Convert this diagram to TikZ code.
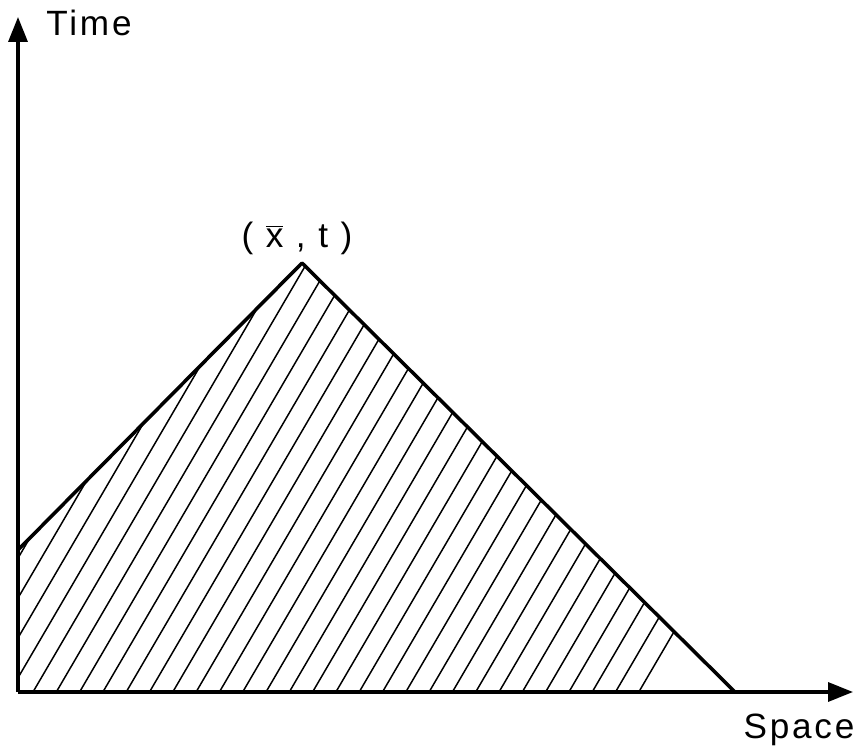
\documentclass[tikz,border=0pt]{standalone}
\usepackage{fontspec}
\setmainfont{Liberation Sans}
\newfontfamily\lblfont[LetterSpace=8]{Liberation Sans}
\usepackage{tikz}
\usetikzlibrary{arrows.meta,calc}

\begin{document}
\begin{tikzpicture}[
  axis/.style={line width=1.9pt, -{Triangle[length=0.5cm,width=0.38cm]}},
  edge/.style={line width=2pt, line join=round},
  hatch/.style={line width=0.85pt},
  lbl/.style={font=\lblfont\fontsize{20}{24}\selectfont}
]
  \useasboundingbox (0,0) rectangle (17.16,15.06);

  \coordinate (origin) at (0.36,1.22);
  \coordinate (ytip)   at (0.36,14.72);
  \coordinate (xtip)   at (17.06,1.22);
  \coordinate (left)   at (0.36,4.06);
  \coordinate (apex)   at (6.04,9.8);
  \coordinate (right)  at (14.7,1.22);

  % hatched region
  \begin{scope}
    \clip (origin) -- (left) -- (apex) -- (right) -- cycle;
    \foreach \k in {-10,...,26}
      \draw[hatch] ($(0.66,1.22)+(0.466*\k,0)$) -- ++(59.7:16);
  \end{scope}

  \draw[edge] (left) -- (apex) -- (right);
  \draw[axis] (origin) -- (ytip);
  \draw[axis] (origin) -- (xtip);

  \node[lbl] (time)  at (1.78,14.6) {Time};
  \node[lbl] (space) at (15.98,0.46) {Space};
  \node[lbl] (point) at (5.94,10.3) {( \(\overline{\mbox{x}}\) , t )};
\end{tikzpicture}
\end{document}
